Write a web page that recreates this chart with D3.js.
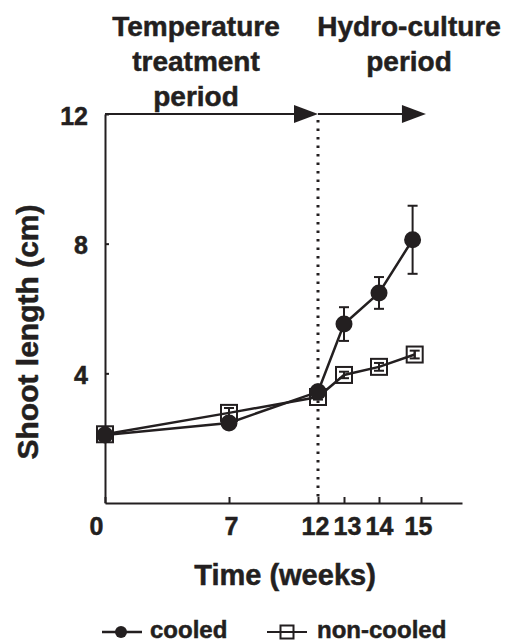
<!DOCTYPE html>
<html>
<head>
<meta charset="utf-8">
<script src="https://cdn.jsdelivr.net/npm/d3@7"></script>
<style>
  body { margin: 0; background: #fff; }
  text { font-family: "Liberation Sans", Arial, sans-serif; font-weight: bold; fill: #231f20; stroke: #231f20; stroke-width: 0.5px; }
</style>
</head>
<body>
<div id="chart"></div>
<script>
// week positions on the (non-uniform) time axis
var xTicks = [0, 7, 12, 13, 14, 15]
var yTicks = [4, 8, 12]

// cooled series
var cooledWeeks = [0, 7, 12, 13, 14, 14.8]
var cooledMean = [2.1, 2.47, 3.43, 5.52, 6.48, 8.12]
var cooledErr = [0.05, 0.05, 0.1, 0.52, 0.49, 1.05]

// non-cooled series
var nonCooledWeeks = [0, 7, 12, 13, 14, 14.85]
var nonCooledMean = [2.12, 2.78, 3.27, 3.95, 4.2, 4.58]
var nonCooledErr = [0.05, 0.15, 0.08, 0.1, 0.12, 0.12]

var periodArrows = [[0, 12], [12, 15.12]]
var periodLabels = [
    {lines: ['Temperature', 'treatment', 'period'], cx: 196},
    {lines: ['Hydro-culture', 'period'], cx: 409}
]

var ink = '#231f20'
var width = 530, height = 644

var svg = d3.select('#chart').append('svg')
    .attr('width', width)
    .attr('height', height)

var x = d3.scaleLinear()
    .domain([0, 7, 12, 13, 14, 15, 16])
    .range([105, 229, 318, 344, 379, 421, 462])
var y = d3.scaleLinear().domain([0, 12]).range([503, 114])

// axes
var yAxis = svg.append('g')
    .attr('transform', 'translate(' + x(0) + ',0)')
    .call(d3.axisLeft(y).tickValues(yTicks).tickSizeInner(-4).tickSizeOuter(0).tickPadding(17))
var xAxis = svg.append('g')
    .attr('transform', 'translate(0,' + y(0) + ')')
    .call(d3.axisBottom(x).tickValues(xTicks).tickSizeInner(-6).tickSizeOuter(0).tickPadding(14))

var labelShift = {0: -9, 12: -3, 13: 3, 14: 0, 15: -3, 7: 2}
xAxis.selectAll('.tick text').attr('dx', d => labelShift[d] || 0)

svg.selectAll('.domain, .tick line')
    .attr('stroke', ink)
    .attr('stroke-width', 2)
svg.selectAll('.tick text')
    .style('font-size', '25px')
    .attr('fill', ink)
yAxis.selectAll('.tick text').attr('dy', '0.4em')

// treatment / hydro-culture arrows along the top
periodArrows.forEach(a => {
    var x0 = x(a[0]), x1 = x(a[1]), yy = y(12)
    svg.append('line')
        .attr('x1', x0).attr('x2', x1 - 20)
        .attr('y1', yy).attr('y2', yy)
        .attr('stroke', ink).attr('stroke-width', 2)
    svg.append('path')
        .attr('d', 'M' + (x1 - 24) + ',' + (yy - 9) + 'L' + x1 + ',' + yy + 'L' + (x1 - 24) + ',' + (yy + 9) + 'Z')
        .attr('fill', ink)
})

// dotted boundary at week 12
svg.append('line')
    .attr('x1', x(12)).attr('x2', x(12))
    .attr('y1', y(12) + 6).attr('y2', y(0))
    .attr('stroke', ink)
    .attr('stroke-width', 3)
    .attr('stroke-dasharray', '2.5,6')

periodLabels.forEach(p => {
    p.lines.forEach((t, i) => {
        svg.append('text')
            .attr('x', p.cx)
            .attr('y', 36 + i * 35)
            .attr('text-anchor', 'middle')
            .style('font-size', '28px')
            .text(t)
    })
})

// series
var cooled = cooledWeeks.map((w, i) => ({w: w, m: cooledMean[i], e: cooledErr[i]}))
var nonCooled = nonCooledWeeks.map((w, i) => ({w: w, m: nonCooledMean[i], e: nonCooledErr[i]}))

var line = d3.line().x(d => x(d.w)).y(d => y(d.m))

function errorBars(data, cls) {
    var g = svg.append('g').attr('class', cls)
    g.selectAll('line.v').data(data).enter().append('line')
        .attr('x1', d => x(d.w)).attr('x2', d => x(d.w))
        .attr('y1', d => y(d.m - d.e)).attr('y2', d => y(d.m + d.e))
        .attr('stroke', ink).attr('stroke-width', 2)
    ;[-1, 1].forEach(s => {
        g.selectAll('line.c' + s).data(data).enter().append('line')
            .attr('x1', d => x(d.w) - 5).attr('x2', d => x(d.w) + 5)
            .attr('y1', d => y(d.m + s * d.e)).attr('y2', d => y(d.m + s * d.e))
            .attr('stroke', ink).attr('stroke-width', 2)
    })
}

errorBars(nonCooled, 'err-nc')
svg.append('path')
    .datum(nonCooled)
    .attr('d', line)
    .attr('fill', 'none')
    .attr('stroke', ink)
    .attr('stroke-width', 2.5)
svg.selectAll('rect.nc').data(nonCooled).enter().append('rect')
    .attr('class', 'nc')
    .attr('x', d => x(d.w) - 8)
    .attr('y', d => y(d.m) - 8)
    .attr('width', 16).attr('height', 16)
    .attr('fill', 'none')
    .attr('stroke', ink)
    .attr('stroke-width', 2)
svg.selectAll('line.ncv').data(nonCooled.filter(d => d.w > 0)).enter().append('line')
    .attr('x1', d => x(d.w)).attr('x2', d => x(d.w))
    .attr('y1', d => y(d.m - d.e)).attr('y2', d => y(d.m + d.e))
    .attr('stroke', ink).attr('stroke-width', 2)

errorBars(cooled, 'err-c')
svg.append('path')
    .datum(cooled)
    .attr('d', line)
    .attr('fill', 'none')
    .attr('stroke', ink)
    .attr('stroke-width', 2.5)
svg.selectAll('circle.c').data(cooled).enter().append('circle')
    .attr('class', 'c')
    .attr('cx', d => x(d.w))
    .attr('cy', d => y(d.m))
    .attr('r', 8.5)
    .attr('fill', ink)

// axis titles
svg.append('text')
    .attr('x', 285).attr('y', 585)
    .attr('text-anchor', 'middle')
    .style('font-size', '29px')
    .text('Time (weeks)')
svg.append('text')
    .attr('transform', 'translate(38,332) rotate(-90)')
    .attr('text-anchor', 'middle')
    .style('font-size', '30px')
    .text('Shoot length (cm)')

// legend
var ly = 632
svg.append('line').attr('x1', 102).attr('x2', 142).attr('y1', ly).attr('y2', ly)
    .attr('stroke', ink).attr('stroke-width', 2.5)
svg.append('circle').attr('cx', 121).attr('cy', ly).attr('r', 6).attr('fill', ink)
svg.append('text').attr('x', 150).attr('y', 638).style('font-size', '24px').text('cooled')
svg.append('line').attr('x1', 267).attr('x2', 307).attr('y1', ly).attr('y2', ly)
    .attr('stroke', ink).attr('stroke-width', 2)
svg.append('rect').attr('x', 280.5).attr('y', ly - 6.5).attr('width', 13).attr('height', 13)
    .attr('fill', '#fff').attr('stroke', ink).attr('stroke-width', 2)
svg.append('line').attr('x1', 280.5).attr('x2', 293.5).attr('y1', ly).attr('y2', ly)
    .attr('stroke', ink).attr('stroke-width', 2)
svg.append('text').attr('x', 317).attr('y', 638).style('font-size', '24px').text('non-cooled')
</script>
</body>
</html>
